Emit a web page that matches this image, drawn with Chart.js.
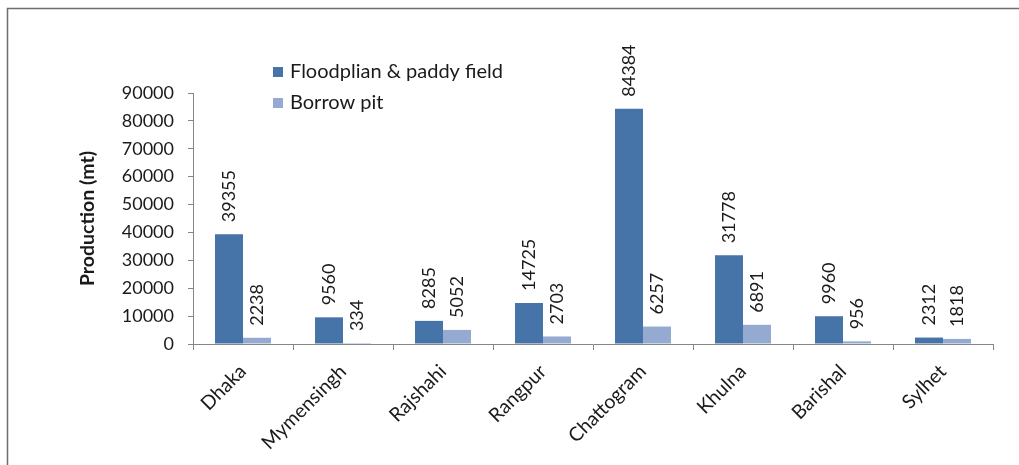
<!DOCTYPE html>
<html>
<head>
<meta charset="utf-8">
<title>Production by division</title>
<script src="https://cdn.jsdelivr.net/npm/chart.js@4.4.0/dist/chart.umd.min.js"></script>
<style>
  html, body { margin: 0; padding: 0; background: #fff; }
</style>
</head>
<body>
<canvas id="prodChart" width="1019" height="465"></canvas>
<script>
const divisions = ['Dhaka', 'Mymensingh', 'Rajshahi', 'Rangpur', 'Chattogram', 'Khulna', 'Barishal', 'Sylhet'];
const floodplain = [39355, 9560, 8285, 14725, 84384, 31778, 9960, 2312];
const borrowPit = [2238, 334, 5052, 2703, 6257, 6891, 956, 1818];
const seriesNames = ['Floodplian & paddy field', 'Borrow pit'];

const FONT = 'Lato, "Open Sans", sans-serif';
const TEXT = '#1a1a1a';
const AXIS = '#868686';

// white background plus the thin outer frame
const framePlugin = {
    id: 'frame',
    beforeDraw(chart) {
        const ctx = chart.ctx;
        ctx.save();
        ctx.fillStyle = '#fff';
        ctx.fillRect(0, 0, chart.width, chart.height);
        ctx.strokeStyle = '#6e6e6e';
        ctx.lineWidth = 1.5;
        ctx.beginPath();
        ctx.moveTo(7.5, chart.height);
        ctx.lineTo(7.5, 8.5);
        ctx.lineTo(chart.width, 8.5);
        ctx.stroke();
        ctx.restore();
    }
};

// stacked legend sitting inside the chart, above the tall bars
const legendPlugin = {
    id: 'boxLegend',
    afterDraw(chart) {
        const ctx = chart.ctx;
        ctx.save();
        ctx.font = '20px ' + FONT;
        ctx.textBaseline = 'middle';
        chart.data.datasets.forEach((ds, i) => {
            const y = 72 + i * 31;
            ctx.fillStyle = ds.backgroundColor;
            ctx.fillRect(273, y - 5, 10, 10);
            ctx.fillStyle = TEXT;
            ctx.fillText(ds.label, 290, y);
        });
        ctx.restore();
    }
};

// vertical value labels above each bar
const valueLabels = {
    id: 'valueLabels',
    afterDatasetsDraw(chart) {
        const ctx = chart.ctx;
        ctx.save();
        ctx.font = '18px ' + FONT;
        ctx.fillStyle = TEXT;
        ctx.textAlign = 'left';
        ctx.textBaseline = 'middle';
        chart.data.datasets.forEach((ds, i) => {
            chart.getDatasetMeta(i).data.forEach((bar, j) => {
                ctx.save();
                ctx.translate(bar.x, bar.y - 12);
                ctx.rotate(-Math.PI / 2);
                ctx.fillText(String(ds.data[j]), 0, 0);
                ctx.restore();
            });
        });
        ctx.restore();
    }
};

new Chart(document.getElementById('prodChart'), {
    type: 'bar',
    data: {
        labels: divisions,
        datasets: [{
            label: seriesNames[0],
            data: floodplain,
            backgroundColor: '#4673a8',
            categoryPercentage: 0.56,
            barPercentage: 1.0
        }, {
            label: seriesNames[1],
            data: borrowPit,
            backgroundColor: '#94aad1',
            categoryPercentage: 0.56,
            barPercentage: 1.0
        }]
    },
    options: {
        responsive: false,
        animation: false,
        layout: {
            padding: { left: 70, top: 93, right: 26, bottom: 0 }
        },
        plugins: {
            legend: { display: false },
            tooltip: { enabled: false }
        },
        scales: {
            x: {
                grid: {
                    drawOnChartArea: false,
                    offset: true,
                    tickLength: 6,
                    color: AXIS
                },
                border: { color: AXIS },
                ticks: {
                    minRotation: 45,
                    maxRotation: 45,
                    padding: 10,
                    color: TEXT,
                    font: { family: FONT, size: 19.5 }
                },
                afterFit(scale) {
                    scale.height = 121;
                }
            },
            y: {
                min: 0,
                max: 90000,
                grid: {
                    drawOnChartArea: false,
                    tickLength: 5,
                    color: AXIS
                },
                border: { color: AXIS },
                ticks: {
                    stepSize: 10000,
                    padding: 14,
                    color: TEXT,
                    font: { family: FONT, size: 18 },
                    callback: v => String(v)
                },
                title: {
                    display: true,
                    text: 'Production (mt)',
                    color: TEXT,
                    font: { family: FONT, size: 19.5, weight: 'bold' },
                    padding: { top: 6, bottom: 0 }
                },
                afterFit(scale) {
                    scale.width = 123;
                }
            }
        }
    },
    plugins: [framePlugin, legendPlugin, valueLabels]
});
</script>
</body>
</html>
